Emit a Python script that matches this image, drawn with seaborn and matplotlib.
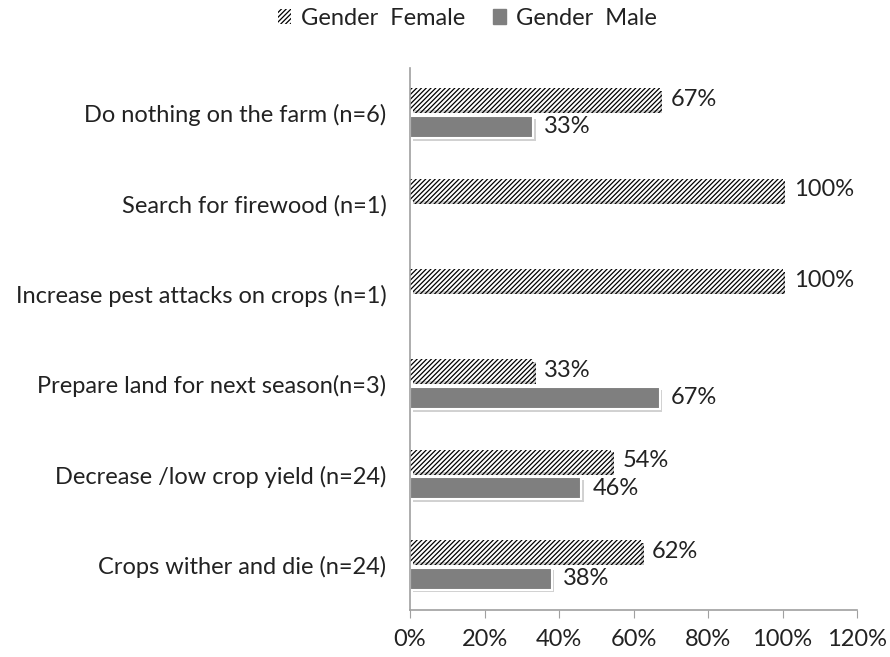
import pandas as pd
import seaborn as sns
import matplotlib.pyplot as plt
import matplotlib.patheffects as pe
from matplotlib.patches import Patch

# data (0 = no male answer)
categories = ["Do nothing on the farm (n=6)",
              "Search for firewood (n=1)",
              "Increase pest attacks on crops (n=1)",
              "Prepare land for next season(n=3)",
              "Decrease /low crop yield (n=24)",
              "Crops wither and die (n=24)"]
female = [67, 100, 100, 33, 54, 62]
male = [33, 0, 0, 67, 46, 38]
series = ["Gender  Female", "Gender  Male"]

df = pd.DataFrame({"category": categories * 2,
                   "gender": [series[0]] * 6 + [series[1]] * 6,
                   "pct": female + male})

sns.set_style("white")
plt.rcParams["font.family"] = ["Lato", "DejaVu Sans"]
plt.rcParams["hatch.linewidth"] = 0.9
fs = 17

fig = plt.figure(figsize=(8.9, 6.57), dpi=100)
ax = fig.add_axes([0.4607, 0.0715, 0.5023, 0.825])

sns.barplot(data=df, x="pct", y="category", hue="gender", orient="h",
            palette=["white", "#7f7f7f"], width=0.61, gap=0.2,
            edgecolor="white", linewidth=1.5, ax=ax, legend=False)

shadow = [pe.SimplePatchShadow(offset=(2, -2), shadow_rgbFace="#999999", alpha=0.45),
          pe.Normal()]
for i, cont in enumerate(ax.containers):
    vals = female if i == 0 else male
    for bar, v in zip(cont, vals):
        if v == 0:
            bar.set_visible(False)
            continue
        bar.set_path_effects(shadow)
        if i == 0:
            # hatch takes the edge colour
            bar.set_hatch("///////")
            bar.set_edgecolor("black")
            bar.set_linewidth(0)
        ax.text(bar.get_width() + 3, bar.get_y() + bar.get_height() / 2, f"{v}%",
                va="center", ha="left", fontsize=fs, color="#222222")

ax.set_xlim(0, 120)
ax.set_xticks(range(0, 121, 20))
ax.set_xticklabels([f"{t}%" for t in range(0, 121, 20)], fontsize=fs, color="#222222")
ax.set_yticklabels(categories, fontsize=fs, color="#222222")
ax.set_xlabel("")
ax.set_ylabel("")
ax.tick_params(axis="x", direction="out", length=6, color="#a0a0a0", pad=8, bottom=True)
ax.tick_params(axis="y", length=0, pad=17)
for s in ["top", "right"]:
    ax.spines[s].set_visible(False)
for s in ["left", "bottom"]:
    ax.spines[s].set_color("#a0a0a0")
    ax.spines[s].set_linewidth(1.2)

handles = [Patch(facecolor="white", edgecolor="black", hatch="///////", linewidth=0),
           Patch(facecolor="#7f7f7f", edgecolor="#7f7f7f")]
fig.legend(handles, series, loc="center", bbox_to_anchor=(0.525, 0.972), ncol=2,
           frameon=False, fontsize=fs, handlelength=0.55, handleheight=0.55,
           handletextpad=0.4, columnspacing=1.2, labelcolor="#222222")

fig.savefig("out.png", dpi=100)
